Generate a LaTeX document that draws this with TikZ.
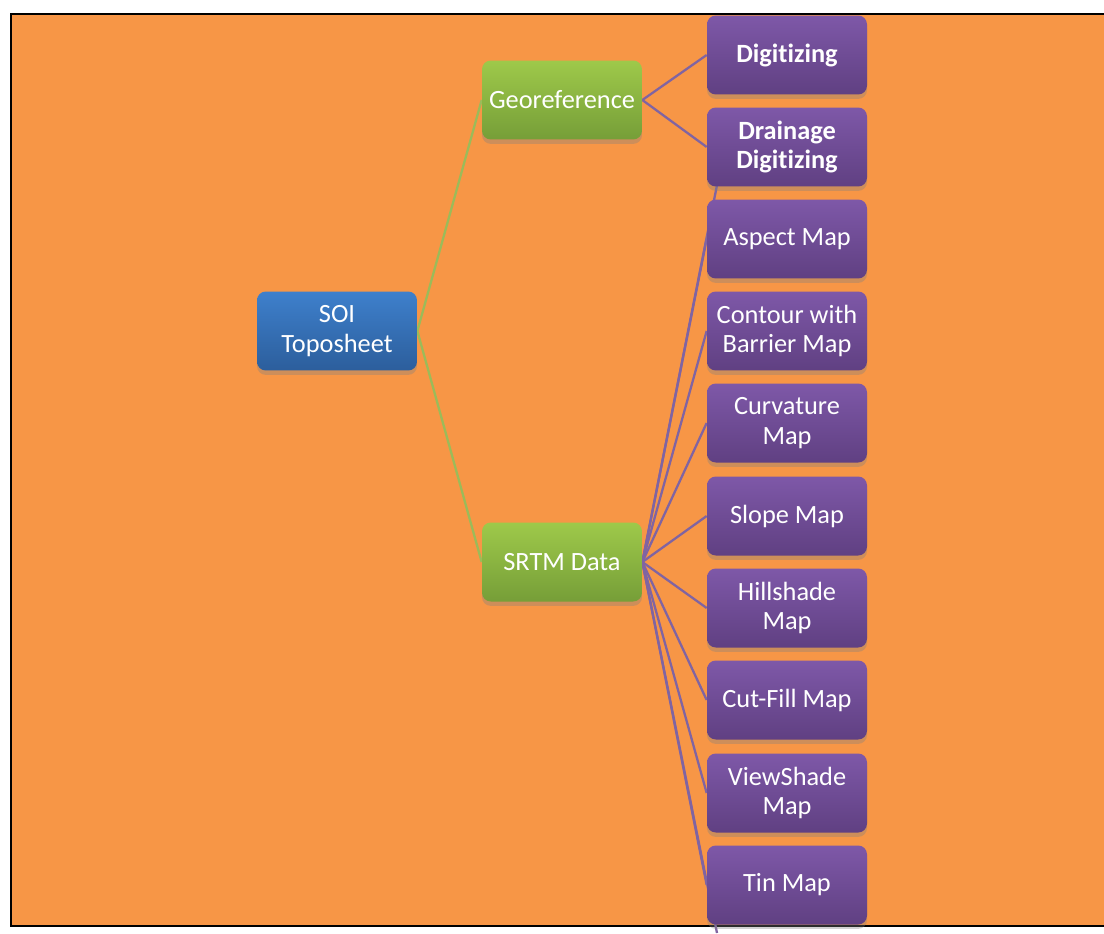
\documentclass[tikz,border=0pt]{standalone}
\usepackage{fontspec}
\setmainfont{Carlito}[Ligatures=NoCommon]
\usetikzlibrary{shadows,backgrounds}

\definecolor{bgorange}{HTML}{F79646}
\definecolor{lnpurple}{HTML}{8064A2}
\definecolor{lngreen}{HTML}{9BBB59}

\tikzset{
  box/.style={rounded corners=5pt, minimum width=3.2cm, minimum height=1.58cm,
    align=center, text=white, font=\fontsize{15}{17}\selectfont,
    drop shadow={shadow xshift=0pt, shadow yshift=-2.5pt, opacity=0.35}},
  soibox/.style={box, top color={rgb,255:red,62;green,128;blue,204}, bottom color={rgb,255:red,44;green,94;blue,156}},
  greenbox/.style={box, top color={rgb,255:red,158;green,201;blue,74}, bottom color={rgb,255:red,118;green,158;blue,56}},
  mapbox/.style={box, top color={rgb,255:red,126;green,88;blue,168}, bottom color={rgb,255:red,96;green,64;blue,130}},
  plink/.style={draw=lnpurple, line width=1.3pt},
  glink/.style={draw=lngreen, line width=1.3pt}
}

\begin{document}
\begin{tikzpicture}[x=0.02cm, y=-0.02cm]
  \useasboundingbox (0,0) rectangle (1104,933);
  % root
  \node[soibox] (soi) at (337,331) {SOI\\Toposheet};
  % second level
  \node[greenbox] (geo) at (562,100) {Georeference};
  \node[greenbox] (srtm) at (562,562) {SRTM Data};
  % outputs
  \node[mapbox, font=\fontsize{15}{17}\selectfont\bfseries] (digit) at (787,55) {Digitizing};
  \node[mapbox, font=\fontsize{15}{17}\selectfont\bfseries] (drain) at (787,147) {Drainage\\Digitizing};
  \node[mapbox] (aspect) at (787,239) {Aspect Map};
  \node[mapbox] (contour) at (787,331) {Contour with\\Barrier Map};
  \node[mapbox] (curv) at (787,423) {Curvature\\Map};
  \node[mapbox] (slope) at (787,516) {Slope Map};
  \node[mapbox] (hill) at (787,608) {Hillshade\\Map};
  \node[mapbox] (cutfill) at (787,700) {Cut-Fill Map};
  \node[mapbox] (view) at (787,793) {ViewShade\\Map};
  \node[mapbox] (tin) at (787,885) {Tin Map};
  % free ends of the two hidden links
  \coordinate (hid1) at (719,175);
  \coordinate (hid2) at (717,933);
  \begin{pgfonlayer}{background}
    % sheet
    \fill[bgorange] (11,14) rectangle (1104,926);
    \draw[line width=1.6pt] (1104,14) -- (11,14) -- (11,926) -- (1104,926);
    % links
    \draw[glink] (soi.east) -- (geo.west);
    \draw[glink] (soi.east) -- (srtm.west);
    \draw[plink] (geo.east) -- (digit.west);
    \draw[plink] (geo.east) -- (drain.west);
    \foreach \n in {hid1,aspect,contour,curv,slope,hill,cutfill,view,tin,hid2}
      \draw[plink] (srtm.east) -- (\n.west);
  \end{pgfonlayer}
\end{tikzpicture}
\end{document}
